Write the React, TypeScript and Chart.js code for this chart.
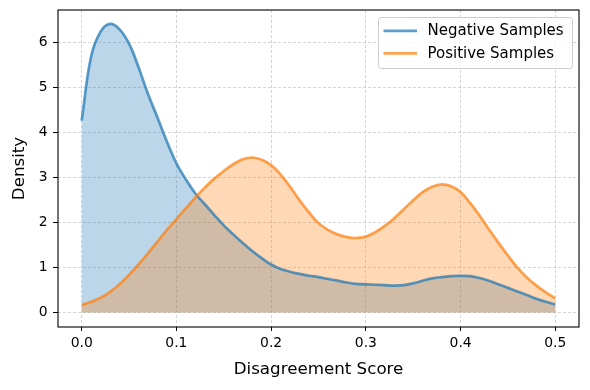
import React, { useEffect, useRef } from "react";
import { Chart, registerables } from "chart.js";

Chart.register(...registerables);

const scores = [
  0.0, 0.01, 0.02, 0.03, 0.04, 0.05, 0.06, 0.07, 0.08, 0.09,
  0.1, 0.11, 0.12, 0.13, 0.14, 0.15, 0.16, 0.17, 0.18, 0.19,
  0.2, 0.21, 0.22, 0.23, 0.24, 0.25, 0.26, 0.27, 0.28, 0.29,
  0.3, 0.31, 0.32, 0.33, 0.34, 0.35, 0.36, 0.37, 0.38, 0.39,
  0.4, 0.41, 0.42, 0.43, 0.44, 0.45, 0.46, 0.47, 0.48, 0.49, 0.5,
];

const negativeDensity = [
  4.27, 5.7, 6.25, 6.42, 6.3, 5.98, 5.46, 4.86, 4.34, 3.8,
  3.32, 2.96, 2.65, 2.41, 2.17, 1.94, 1.74, 1.55, 1.37, 1.21,
  1.07, 0.97, 0.91, 0.86, 0.82, 0.79, 0.75, 0.71, 0.67, 0.64,
  0.63, 0.62, 0.61, 0.6, 0.61, 0.65, 0.71, 0.76, 0.79, 0.81,
  0.82, 0.81, 0.77, 0.71, 0.63, 0.55, 0.47, 0.39, 0.31, 0.24, 0.18,
];

const positiveDensity = [
  0.17, 0.24, 0.33, 0.46, 0.63, 0.84, 1.07, 1.32, 1.58, 1.84,
  2.08, 2.32, 2.56, 2.78, 2.98, 3.15, 3.3, 3.41, 3.45, 3.4,
  3.28, 3.07, 2.8, 2.5, 2.23, 1.99, 1.84, 1.74, 1.68, 1.66,
  1.69, 1.79, 1.93, 2.1, 2.3, 2.5, 2.68, 2.8, 2.85, 2.81,
  2.68, 2.44, 2.16, 1.85, 1.55, 1.27, 1.0, 0.78, 0.6, 0.45, 0.32,
];

const seriesLabels = ["Negative Samples", "Positive Samples"];
const xTicks = [0, 0.1, 0.2, 0.3, 0.4, 0.5];
const yTicks = [0, 1, 2, 3, 4, 5, 6];

const FONT = "'DejaVu Sans', sans-serif";

const frameAndLegend = {
  id: "frameAndLegend",
  afterDraw(chart: any) {
    const { ctx, chartArea } = chart;
    const { left, right, top, bottom } = chartArea;
    ctx.save();
    ctx.strokeStyle = "#000";
    ctx.lineWidth = 1.1;
    ctx.setLineDash([]);
    ctx.strokeRect(left, top, right - left, bottom - top);

    const bw = 194;
    const bh = 51;
    const bx = right - 6.5 - bw;
    const by = top + 7.5;
    const r = 3;
    ctx.beginPath();
    ctx.moveTo(bx + r, by);
    ctx.lineTo(bx + bw - r, by);
    ctx.arcTo(bx + bw, by, bx + bw, by + r, r);
    ctx.lineTo(bx + bw, by + bh - r);
    ctx.arcTo(bx + bw, by + bh, bx + bw - r, by + bh, r);
    ctx.lineTo(bx + r, by + bh);
    ctx.arcTo(bx, by + bh, bx, by + bh - r, r);
    ctx.lineTo(bx, by + r);
    ctx.arcTo(bx, by, bx + r, by, r);
    ctx.closePath();
    ctx.fillStyle = "rgba(255,255,255,0.8)";
    ctx.fill();
    ctx.strokeStyle = "#cccccc";
    ctx.lineWidth = 1;
    ctx.stroke();

    const ds = chart.data.datasets;
    ds.forEach((d: any, i: number) => {
      const y = by + 13.3 + i * 22.6;
      ctx.beginPath();
      ctx.moveTo(bx + 5, y);
      ctx.lineTo(bx + 38.5, y);
      ctx.strokeStyle = d.borderColor;
      ctx.lineWidth = 2.8;
      ctx.stroke();
      ctx.fillStyle = "#000";
      ctx.font = `15px ${FONT}`;
      ctx.textAlign = "left";
      ctx.textBaseline = "middle";
      ctx.fillText(d.label, bx + 49, y + 0.5);
    });
    ctx.restore();
  },
};

export default function App() {
  const canvasRef = useRef<HTMLCanvasElement | null>(null);

  useEffect(() => {
    document.body.style.margin = "0";
    const canvas = canvasRef.current;
    if (!canvas) return;

    const gridCommon = {
      color: "rgba(176,176,176,0.65)",
      lineWidth: 0.8,
      tickColor: "#000",
      tickWidth: 1,
      tickBorderDash: [],
    };

    const chart = new Chart(canvas, {
      type: "line",
      data: {
        datasets: [
          {
            label: seriesLabels[0],
            data: scores.map((x, i) => ({ x, y: negativeDensity[i] })),
            borderColor: "rgba(31,119,180,0.72)",
            backgroundColor: "rgba(31,119,180,0.3)",
            borderWidth: 2.7,
            fill: "origin",
            pointRadius: 0,
            tension: 0.4,
            order: 2,
          },
          {
            label: seriesLabels[1],
            data: scores.map((x, i) => ({ x, y: positiveDensity[i] })),
            borderColor: "rgba(255,127,14,0.72)",
            backgroundColor: "rgba(255,127,14,0.3)",
            borderWidth: 2.7,
            fill: "origin",
            pointRadius: 0,
            tension: 0.4,
            order: 1,
          },
        ],
      },
      options: {
        animation: false,
        responsive: false,
        devicePixelRatio: 1,
        layout: { padding: { top: 10, right: 11, left: 0, bottom: 0 } },
        plugins: {
          legend: { display: false },
          tooltip: { enabled: false },
          filler: { drawTime: "beforeDatasetsDraw" },
        },
        scales: {
          x: {
            type: "linear",
            min: -0.025,
            max: 0.525,
            afterBuildTicks: (scale: any) => {
              scale.ticks = xTicks.map((v) => ({ value: v }));
            },
            afterFit: (scale: any) => {
              scale.height = 63;
              scale.paddingLeft = 0;
              scale.paddingRight = 0;
            },
            border: { display: false, dash: [3, 2] },
            grid: { ...gridCommon, tickLength: 4 },
            ticks: {
              color: "#000",
              font: { family: FONT, size: 13.9 },
              padding: 4,
              maxRotation: 0,
              callback: (v: any) => Number(v).toFixed(1),
            },
            title: {
              display: true,
              text: "Disagreement Score",
              color: "#000",
              font: { family: FONT, size: 16.7 },
              padding: { top: 0, bottom: 10 },
            },
          },
          y: {
            type: "linear",
            min: -0.32,
            max: 6.73,
            afterBuildTicks: (scale: any) => {
              scale.ticks = yTicks.map((v) => ({ value: v }));
            },
            afterFit: (scale: any) => {
              scale.width = 58;
              scale.paddingTop = 0;
              scale.paddingBottom = 0;
            },
            border: { display: false, dash: [3, 2] },
            grid: { ...gridCommon, tickLength: 5 },
            ticks: {
              color: "#000",
              font: { family: FONT, size: 13.9 },
              padding: 5.5,
              callback: (v: any) => String(v),
            },
            title: {
              display: true,
              text: "Density",
              color: "#000",
              font: { family: FONT, size: 16.7 },
              padding: { top: 9.5, bottom: 0 },
            },
          },
        },
      },
      plugins: [frameAndLegend],
    } as any);

    return () => {
      chart.destroy();
    };
  }, []);

  return (
    <div style={{ width: 590, height: 390 }}>
      <canvas ref={canvasRef} width={590} height={390} style={{ width: 590, height: 390, display: "block" }} />
    </div>
  );
}
